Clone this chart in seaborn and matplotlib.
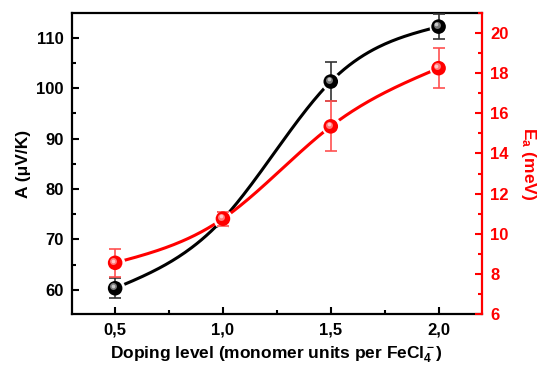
import numpy as np
import pandas as pd
import matplotlib
matplotlib.use("Agg")
import matplotlib.pyplot as plt
import matplotlib.transforms as mtransforms
from matplotlib.ticker import MultipleLocator, FixedLocator
import seaborn as sns

# ---- data ----
doping = [0.5, 1.0, 1.5, 2.0]
A_vals = [60.3, 74.0, 101.3, 112.2]
A_err = [2.0, 1.5, 3.8, 2.5]
Ea_vals = [8.55, 10.75, 15.35, 18.25]
Ea_err = [0.7, 0.35, 1.25, 1.0]
x_ticks = [0.5, 1.0, 1.5, 2.0]
x_ticklabels = ["0,5", "1,0", "1,5", "2,0"]
left_ticks = [60, 70, 80, 90, 100, 110]
right_ticks = [6, 8, 10, 12, 14, 16, 18, 20]

sns.set_style("ticks")
plt.rcParams['font.family'] = ['Liberation Sans', 'DejaVu Sans']
plt.rcParams['font.weight'] = 'bold'
plt.rcParams['text.color'] = 'black'
plt.rcParams['axes.labelcolor'] = 'black'
plt.rcParams['xtick.color'] = 'black'
plt.rcParams['ytick.color'] = 'black'
plt.rcParams['mathtext.fontset'] = 'custom'
plt.rcParams['mathtext.rm'] = 'Liberation Sans:bold'
plt.rcParams['mathtext.it'] = 'Liberation Sans:bold'
plt.rcParams['mathtext.bf'] = 'Liberation Sans:bold'
plt.rcParams['mathtext.default'] = 'bf'


def natural_spline(x, y, n=200):
    x = np.asarray(x, float); y = np.asarray(y, float)
    k = len(x)
    h = np.diff(x)
    M = np.zeros((k, k)); r = np.zeros(k)
    M[0, 0] = 1; M[-1, -1] = 1
    for i in range(1, k - 1):
        M[i, i - 1] = h[i - 1]
        M[i, i] = 2 * (h[i - 1] + h[i])
        M[i, i + 1] = h[i]
        r[i] = 6 * ((y[i + 1] - y[i]) / h[i] - (y[i] - y[i - 1]) / h[i - 1])
    m = np.linalg.solve(M, r)
    xs = np.linspace(x[0], x[-1], n)
    ys = np.empty_like(xs)
    for j, xv in enumerate(xs):
        i = min(np.searchsorted(x, xv, side='right') - 1, k - 2)
        t = xv - x[i]
        hi = h[i]
        a = (m[i + 1] - m[i]) / (6 * hi)
        b = m[i] / 2
        c = (y[i + 1] - y[i]) / hi - hi * (2 * m[i] + m[i + 1]) / 6
        ys[j] = y[i] + c * t + b * t ** 2 + a * t ** 3
    return xs, ys


fig = plt.figure(figsize=(5.39, 3.66), dpi=100)
ax = fig.add_axes([0.1336, 0.1421, 0.8937 - 0.1336, 0.9645 - 0.1421])
ax2 = ax.twinx()

dfA = pd.DataFrame({"x": doping, "y": A_vals})
dfE = pd.DataFrame({"x": doping, "y": Ea_vals})


def draw_series(axis, df, err, color, ecolor, hl, zbase):
    xs, ys = natural_spline(df["x"], df["y"])
    axis.plot(xs, ys, color=color, lw=2.2, zorder=zbase, solid_capstyle='round')
    # white halo to make gap around markers
    axis.scatter(df["x"], df["y"], s=200, color='white', zorder=zbase + 1, linewidths=0)
    axis.errorbar(df["x"], df["y"], yerr=err, fmt='none', ecolor=ecolor,
                  elinewidth=1.2, capsize=4, capthick=1.2, zorder=zbase + 2)
    sns.scatterplot(data=df, x="x", y="y", ax=axis, s=110, color=color,
                    edgecolor='none', linewidth=0, zorder=zbase + 3, legend=False)
    off = mtransforms.offset_copy(axis.transData, fig=fig, x=-1.3, y=1.3, units='points')
    axis.scatter(df["x"], df["y"], s=25, color=hl, alpha=0.8, zorder=zbase + 4,
                 linewidths=0, transform=off)
    off2 = mtransforms.offset_copy(axis.transData, fig=fig, x=-1.6, y=1.6, units='points')
    axis.scatter(df["x"], df["y"], s=7, color='white', alpha=0.6, zorder=zbase + 5,
                 linewidths=0, transform=off2)


draw_series(ax, dfA, A_err, 'black', '#333333', '#9a9a9a', 3)
draw_series(ax2, dfE, Ea_err, '#ff0000', '#ff5050', '#ff9a9a', 3)

ax.set_xlim(0.3, 2.2)
ax.set_ylim(55.2, 114.9)
ax2.set_ylim(6, 21)

ax.xaxis.set_major_locator(FixedLocator(x_ticks))
ax.set_xticklabels(x_ticklabels)
ax.xaxis.set_minor_locator(MultipleLocator(0.25))
ax.yaxis.set_major_locator(FixedLocator(left_ticks))
ax.yaxis.set_minor_locator(MultipleLocator(5))
ax2.yaxis.set_major_locator(FixedLocator(right_ticks))
ax2.yaxis.set_minor_locator(MultipleLocator(1))

ax.tick_params(axis='both', which='major', direction='in', length=5, width=1.5,
               labelsize=12, pad=6, colors='black')
ax.tick_params(axis='both', which='minor', direction='in', length=3, width=1.5,
               colors='black')
ax.tick_params(axis='y', which='both', right=False)
ax.tick_params(axis='x', which='both', top=False)
ax2.tick_params(axis='y', which='major', direction='in', length=5, width=1.5,
                labelsize=12, colors='#ff0000', pad=6)
ax2.tick_params(axis='y', which='minor', direction='in', length=3, width=1.5,
                colors='#ff0000')

for lab in ax.get_xticklabels() + ax.get_yticklabels() + ax2.get_yticklabels():
    lab.set_fontweight('bold')

for s in ['left', 'bottom', 'top']:
    ax.spines[s].set_linewidth(1.6)
    ax.spines[s].set_color('black')
ax.spines['right'].set_visible(False)
for s in ['left', 'bottom', 'top']:
    ax2.spines[s].set_visible(False)
ax2.spines['right'].set_visible(True)
ax2.spines['right'].set_linewidth(1.6)
ax2.spines['right'].set_color('#ff0000')

ax.set_xlabel(r"Doping level (monomer units per FeCl$_4^-$)", fontsize=12.5,
              fontweight='bold', labelpad=5, color='black')
ax.set_ylabel("A (μV/K)", fontsize=12.5, fontweight='bold', labelpad=4, color='black')
ax2.set_ylabel(r"E$_a$ (meV)", fontsize=12.5, fontweight='bold', color='#ff0000',
               rotation=270, labelpad=21)

fig.savefig("out.png", dpi=100)
